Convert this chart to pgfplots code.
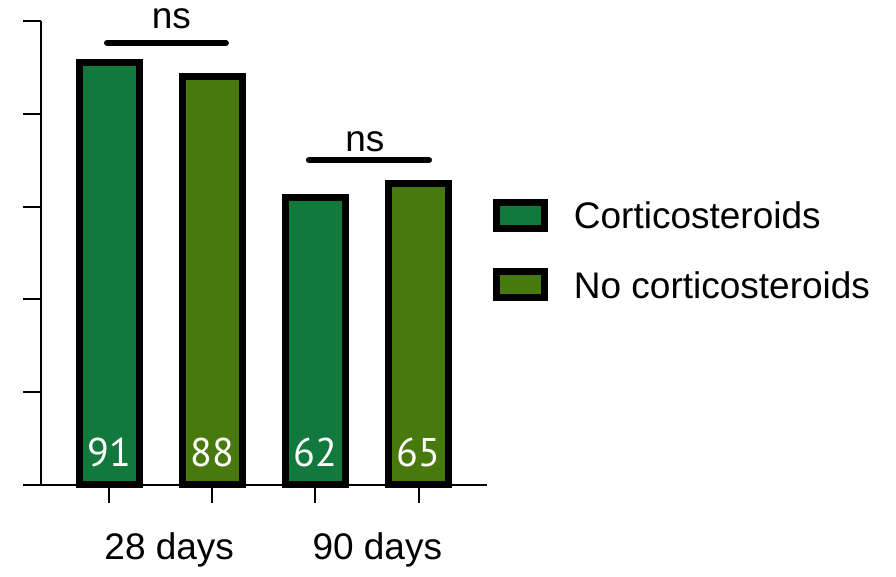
\documentclass[border=0pt]{standalone}
\usepackage{pgfplots}
\pgfplotsset{compat=1.18}
\usepackage{fontspec}
\setmainfont{Liberation Sans}
\newfontfamily\numfont{PT Sans}
\definecolor{c1}{RGB}{17,121,59}
\definecolor{c2}{RGB}{72,121,12}
\begin{document}
\begin{tikzpicture}
\begin{axis}[
  scale only axis, width=223pt, height=232pt,
  xmin=0.4175, xmax=2.5825, ymin=0, ymax=100,
  axis x line=bottom, axis y line=left,
  axis line style={-, line width=1pt},
  ytick={0,20,40,60,80,100}, yticklabels={},
  xtick={0.75,1.25,1.75,2.25}, xticklabels={},
  tick align=outside, major tick length=9pt,
  tick style={line width=1pt, black},
  extra x ticks={1.04,2.05}, extra x tick labels={28 days,90 days},
  extra x tick style={major tick length=0pt, xticklabel style={anchor=base, yshift=-37.5pt}},
  ybar, bar width=30pt,
  clip=false,
  font=\fontsize{18.5}{22}\selectfont,
  legend cell align=left,
  legend style={at={(rel axis cs:1.0135,0.506)}, anchor=west, draw=none, fill=none,
    inner sep=0pt, /tikz/row sep=18.25pt, /tikz/column sep=12.75pt,
    nodes={inner sep=0pt}, font=\fontsize{18.5}{22}\selectfont},
]
\addplot[fill=c1, draw=black, line width=3.5pt, bar shift=-25.75pt,
  legend image code/.code={\draw[fill=c1, draw=black, line width=3.5pt] (0pt,-5.9pt) rectangle (24pt,7.1pt);}]
  coordinates {(1,91) (2,62)};
\addlegendentry{Corticosteroids}
\addplot[fill=c2, draw=black, line width=3.5pt, bar shift=25.75pt,
  legend image code/.code={\draw[fill=c2, draw=black, line width=3.5pt] (0pt,-5.9pt) rectangle (24pt,7.1pt);}]
  coordinates {(1,88) (2,65)};
\addlegendentry{No corticosteroids}
\addplot[draw=none, fill=none, bar shift=0pt, forget plot,
  nodes near coords, point meta=explicit symbolic,
  every node near coord/.append style={anchor=base, yshift=9pt, text=white, font=\numfont\fontsize{20}{22}\selectfont}]
  coordinates {(0.75,0) [91] (1.25,0) [88] (1.75,0) [62] (2.25,0) [65]};
\draw[line width=3pt, line cap=round] (axis cs:0.738,95.3) -- (axis cs:1.315,95.3);
\draw[line width=3pt, line cap=round] (axis cs:1.718,70.0) -- (axis cs:2.301,70.0);
\node[anchor=base, inner sep=0pt] at (axis cs:1.05,98.3) {ns};
\node[anchor=base, inner sep=0pt] at (axis cs:1.99,71.8) {ns};
\path (rel axis cs:0,0) ++(-20.5pt,-46pt) rectangle ++(448pt,288.5pt);
\end{axis}
\end{tikzpicture}
\end{document}
